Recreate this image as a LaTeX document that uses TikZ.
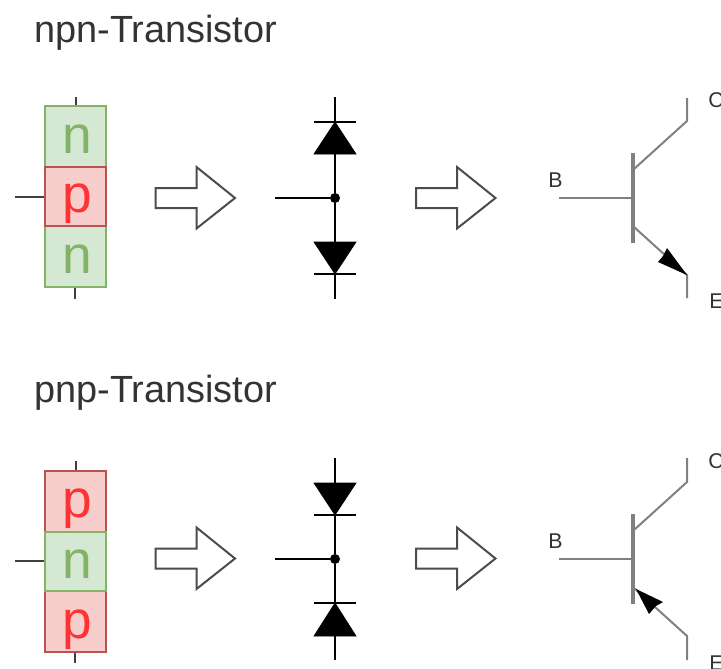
\documentclass[tikz,border=0pt]{standalone}
\usepackage{fontspec}
\setmainfont{Liberation Sans}
\definecolor{gfill}{HTML}{D5E8D4}
\definecolor{gline}{HTML}{82B366}
\definecolor{rfill}{HTML}{F8CECC}
\definecolor{rline}{HTML}{B85450}
\definecolor{ntext}{HTML}{82B366}
\definecolor{ptext}{HTML}{FF3333}
\definecolor{tgray}{HTML}{808080}
\definecolor{tinkk}{HTML}{333333}
\tikzset{
  x=0.75pt,y=-0.75pt,
  title/.style={font=\fontsize{28.4}{28.4}\selectfont,text=tinkk,anchor=base west,inner sep=0pt},
  pin/.style={font=\fontsize{16}{16}\selectfont,text=tinkk,anchor=base west,inner sep=0pt},
  nlayer/.style={draw=gline,fill=gfill,line width=1.5pt},
  player/.style={draw=rline,fill=rfill,line width=1.5pt},
  nlabel/.style={font=\fontsize{40}{40}\selectfont,text=ntext,anchor=base,inner sep=0pt},
  plabel/.style={font=\fontsize{40}{40}\selectfont,text=ptext,anchor=base,inner sep=0pt},
  stub/.style={draw=black!75,line width=1.2pt},
  blockarrow/.style={draw=black!70,fill=white,line width=1.5pt,line join=miter},
  wire/.style={draw=black,line width=1.1pt},
  diodefill/.style={fill=black,draw=black,line width=0.5pt,line join=miter},
  junction/.style={circle,fill=black,inner sep=0pt,minimum size=7.5pt},
  tlead/.style={draw=tgray,line width=1.5pt,line join=miter},
  tbar/.style={draw=tgray,line width=2.8pt},
  thead/.style={fill=black,draw=none},
}
\newcommand{\blockarr}[2]{% left x, centre y
  \draw[blockarrow] (#1,#2-10) -- (#1+41,#2-10) -- (#1+41,#2-31) -- (#1+79.5,#2) -- (#1+41,#2+30.5) -- (#1+41,#2+10) -- (#1,#2+10) -- cycle;}
\begin{document}
\begin{tikzpicture}
\useasboundingbox (0,0) rectangle (721,668);
\fill[white] (0,0) rectangle (721,668);

\node[title] (t1) at (34,42) {npn-Transistor};
\node[title] (t2) at (34,402) {pnp-Transistor};

% --- npn layers
\path[nlayer] (44.5,106) rectangle (105.5,166.5);
\path[nlayer] (44.5,226) rectangle (105.5,287);
\path[player] (44.5,166.5) rectangle (105.5,226);
\node[nlabel] (n1) at (77,153) {n};
\node[plabel] (p1) at (77,212) {p};
\node[nlabel] (n2) at (77,273) {n};
\coordinate (a1) at (76,97); \coordinate (a2) at (76,105);
\coordinate (a3) at (75,288); \coordinate (a4) at (75,299);
\coordinate (a5) at (15,197); \coordinate (a6) at (44,197);
\draw[stub] (a1) -- (a2);
\draw[stub] (a3) -- (a4);
\draw[stub] (a5) -- (a6);
\blockarr{155.5}{198}
\blockarr{416}{198}

% --- npn diodes
\node[junction] (j1) at (335,198) {};
\coordinate (d1t) at (335,97); \coordinate (d1b) at (335,299); \coordinate (d1l) at (275,198);
\draw[wire] (d1t) -- (j1) -- (d1b);
\draw[wire] (d1l) -- (j1);
\draw[wire] (314,122) -- (356,122);
\draw[wire] (314,274) -- (356,274);
\path[diodefill] (335,122) -- (356,154) -- (314,154) -- cycle;
\path[diodefill] (335,274) -- (356,242) -- (314,242) -- cycle;

% --- npn transistor
\coordinate (b1) at (559,198); \coordinate (b1e) at (632,198);
\draw[tlead] (b1) -- (b1e);
\draw[tbar] (632.7,153) -- (632.7,243);
\draw[tlead] (634,169) -- (687,121) -- (687,98);
\draw[tlead] (634,227) -- (687,275) -- (687,298);
\path[thead] (687,275) -- (667,248) -- (663,256) -- (658,262) -- cycle;
\node[pin] (B1) at (548,187) {B};
\node[pin] (C1) at (708,107) {C};
\node[pin] (E1) at (709,308) {E};

% --- pnp layers
\path[player] (44.5,471) rectangle (105.5,532);
\path[player] (44.5,591) rectangle (105.5,652);
\path[nlayer] (44.5,532) rectangle (105.5,591);
\node[plabel] (p2) at (77,517) {p};
\node[nlabel] (n3) at (77,578) {n};
\node[plabel] (p3) at (77,638) {p};
\coordinate (c1) at (76,461); \coordinate (c2) at (76,470);
\coordinate (c3) at (75,653); \coordinate (c4) at (75,663);
\coordinate (c5) at (15,561); \coordinate (c6) at (44,561);
\draw[stub] (c1) -- (c2);
\draw[stub] (c3) -- (c4);
\draw[stub] (c5) -- (c6);
\blockarr{155.5}{558.5}
\blockarr{416}{558.5}

% --- pnp diodes
\node[junction] (j2) at (335,559) {};
\coordinate (d2t) at (335,458); \coordinate (d2b) at (335,660); \coordinate (d2l) at (275,559);
\draw[wire] (d2t) -- (j2) -- (d2b);
\draw[wire] (d2l) -- (j2);
\draw[wire] (314,515) -- (356,515);
\draw[wire] (314,603) -- (356,603);
\path[diodefill] (335,515) -- (356,483) -- (314,483) -- cycle;
\path[diodefill] (335,603) -- (356,636) -- (314,636) -- cycle;

% --- pnp transistor
\coordinate (b2) at (559,559); \coordinate (b2e) at (632,559);
\draw[tlead] (b2) -- (b2e);
\draw[tbar] (632.7,514) -- (632.7,604);
\draw[tlead] (634,530) -- (687,482) -- (687,458);
\draw[tlead] (634,588) -- (687,636) -- (687,660);
\path[thead] (636,589) -- (663,602) -- (656,606) -- (649,614) -- cycle;
\node[pin] (B2) at (548,548) {B};
\node[pin] (C2) at (708,468) {C};
\node[pin] (E2) at (709,670) {E};
\end{tikzpicture}
\end{document}
